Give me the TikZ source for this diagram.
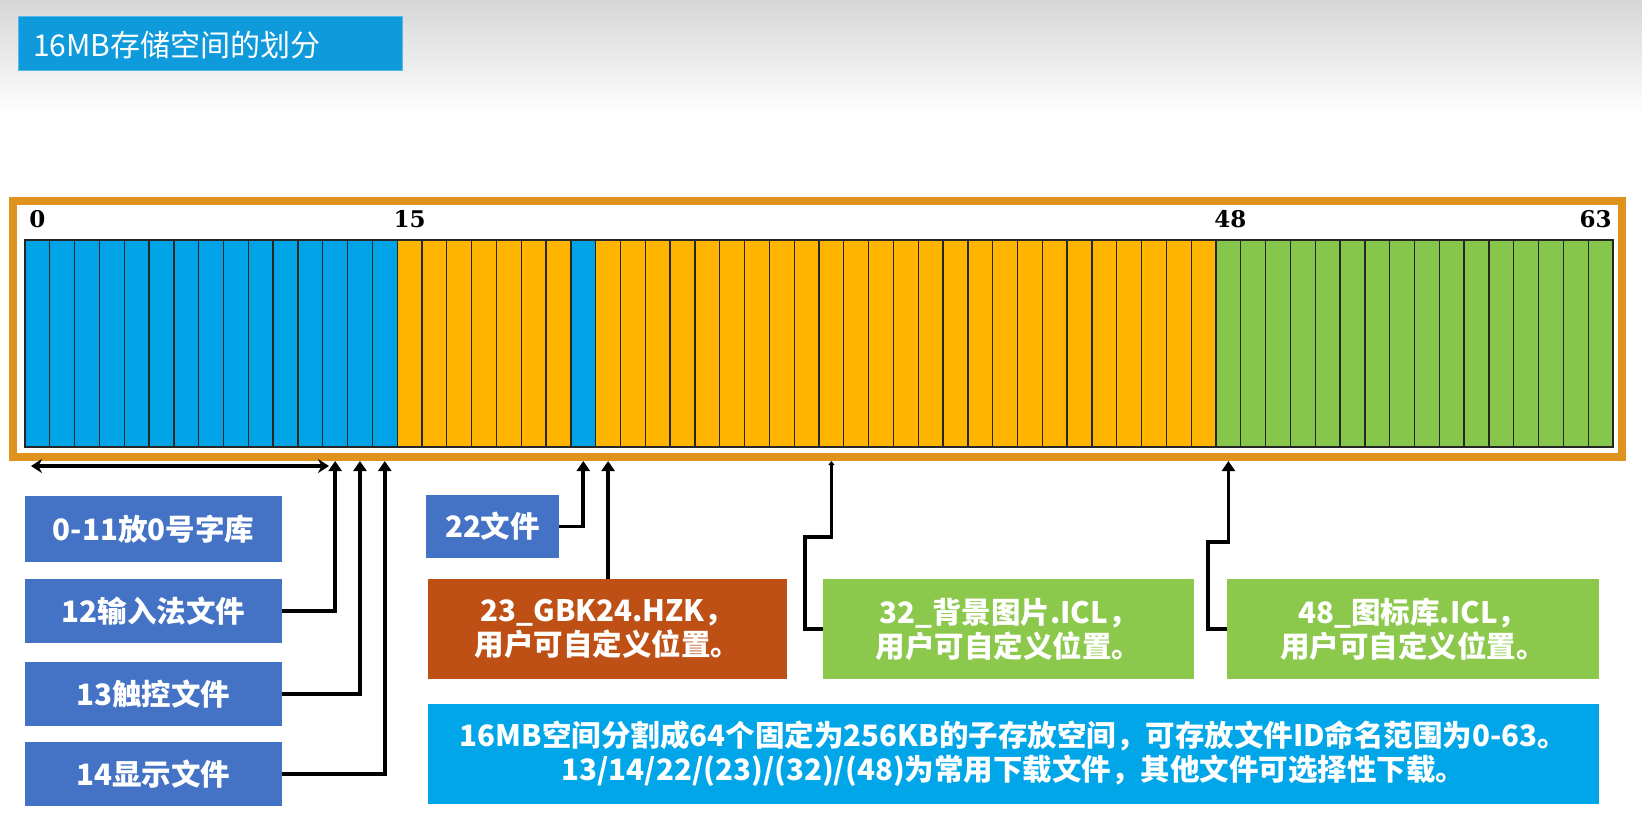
\documentclass[tikz,border=0pt]{standalone}
\usepackage{fontspec}
\newfontfamily\cjk{Noto Sans CJK SC}
\newfontfamily\numf{DejaVu Serif}
\usetikzlibrary{arrows.meta,calc}
\definecolor{cblue}{HTML}{00A3E6}
\definecolor{corange}{HTML}{FFB400}
\definecolor{cgreen}{HTML}{86C64A}
\definecolor{frameor}{HTML}{E0921E}
\definecolor{boxblue}{HTML}{4472C4}
\definecolor{boxbrown}{HTML}{BE5016}
\definecolor{boxgreen}{HTML}{8BC84B}
\definecolor{notebl}{HTML}{00A6E8}
\definecolor{titlebl}{HTML}{0F9BDB}
\begin{document}
\begin{tikzpicture}[x=1pt,y=-1pt,
  cellbox/.style={rectangle, draw=black!85, line width=1.3pt, inner sep=0pt, outer sep=0pt,
    minimum width=24.8125pt, minimum height=207pt},
  numlbl/.style={inner sep=0pt, font=\numf\bfseries\fontsize{23}{26}\selectfont},
  lbl/.style={rectangle, inner sep=0pt, outer sep=0pt, text=white, align=center,
    font=\cjk\bfseries\fontsize{29.5}{34}\selectfont},
  conn/.style={draw=black, line width=3.6pt, -{Triangle[width=13pt,length=10pt]}},
  conn2/.style={draw=black, line width=3.6pt, {Stealth[width=14pt,length=11pt]}-{Stealth[width=14pt,length=11pt]}}
]
\useasboundingbox (0,0) rectangle (1642,823);
\fill[white] (0,0) rectangle (1642,823);
\shade[top color=black!16, bottom color=white] (0,0) rectangle (1642,115);
% title
\node[rectangle, fill=titlebl, draw=titlebl!70, inner sep=0pt, minimum width=384pt, minimum height=54pt] (title) at (210,43) {};
\node[anchor=west, inner sep=0pt, text=white, font=\cjk\fontsize{30}{32}\selectfont] (titletxt) at (33,45) {16MB存储空间的划分};
% frame
\node[rectangle, draw=frameor, line width=8pt, minimum width=1609pt, minimum height=256pt, inner sep=0pt] (frame) at (817.5,329) {};
% cells
\foreach \i in {0,...,63}{
  \ifnum\i<15 \def\cc{cblue}\else\ifnum\i<48 \def\cc{corange}\else\def\cc{cgreen}\fi\fi
  \ifnum\i=22 \def\cc{cblue}\fi
  \node[cellbox, fill=\cc] (cell\i) at ({25+(\i+0.5)*24.8125}, 343.5) {};
}
\node[numlbl] (n0) at ($(cell0.north)+(0,-21)$) {0};
\node[numlbl] (n15) at ($(cell15.north)+(0,-21)$) {15};
\node[numlbl] (n48) at ($(cell48.north)+(2,-21)$) {48};
\node[numlbl] (n63) at ($(cell63.north)+(-5,-21)$) {63};
% boxes
\node[lbl, fill=boxblue, minimum width=257pt, minimum height=66pt] (b011) at (153.5,529) {0-11放0号字库};
\node[lbl, fill=boxblue, minimum width=257pt, minimum height=64pt] (b12) at (153.5,611) {12输入法文件};
\node[lbl, fill=boxblue, minimum width=257pt, minimum height=64pt] (b13) at (153.5,694) {13触控文件};
\node[lbl, fill=boxblue, minimum width=257pt, minimum height=64pt] (b14) at (153.5,774) {14显示文件};
\node[lbl, fill=boxblue, minimum width=133pt, minimum height=63pt] (b22) at (492.5,526.5) {22文件};
\node[lbl, fill=boxbrown, minimum width=359pt, minimum height=100pt] (b23) at (607.5,629) {23\_GBK24.HZK，\\用户可自定义位置。};
\node[lbl, fill=boxgreen, minimum width=371pt, minimum height=100pt] (b32) at (1008.5,629) {32\_背景图片.ICL，\\用户可自定义位置。};
\node[lbl, fill=boxgreen, minimum width=372pt, minimum height=100pt] (b48) at (1413,629) {48\_图标库.ICL，\\用户可自定义位置。};
\node[lbl, fill=notebl, minimum width=1171pt, minimum height=100pt] (note) at (1013.5,754) {16MB空间分割成64个固定为256KB的子存放空间，可存放文件ID命名范围为0-63。\\13/14/22/(23)/(32)/(48)为常用下载文件，其他文件可选择性下载。};
% connectors
\coordinate (dl) at (31,466);
\coordinate (dr) at (329,466);
\draw[conn2] (dl) -- (dr);
\draw[conn] (b12.east) -| (cell12.south |- frame.south);
\draw[conn] (b13.east) -| (cell13.south |- frame.south);
\draw[conn] (b14.east) -| (cell14.south |- frame.south);
\draw[conn] (b22.east) -| (cell22.south |- frame.south);
\draw[conn] (cell23.south |- b23.north) -- (cell23.south |- frame.south);
\draw[conn, -{Triangle[width=6pt,length=4pt]}] (b32.west) -| ++(-18,-92) -| (cell32.south |- frame.south);
\draw[conn] (b48.west) -| ++(-19,-87) -| (cell48.south |- frame.south);
\end{tikzpicture}
\end{document}
